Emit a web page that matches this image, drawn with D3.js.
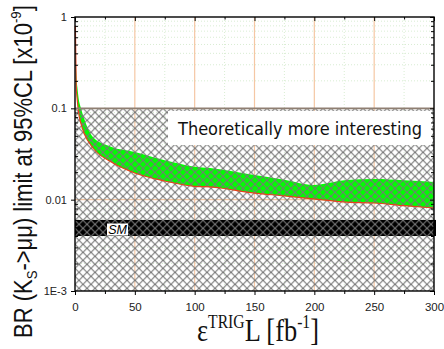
<!DOCTYPE html>
<html><head><meta charset="utf-8">
<script src="https://cdn.jsdelivr.net/npm/d3@7"></script>
<style>html,body{margin:0;padding:0;background:#fff}svg{display:block}</style>
</head><body>
<svg id="c" width="444" height="349"></svg>
<script>
// ---- data ----
const lumi = [0.3, 1, 2, 3, 5, 8, 15, 30, 50, 75, 100, 113, 150, 175, 199, 227, 250, 275, 300];
const upperLimit = [0.8, 0.25, 0.17, 0.13, 0.1, 0.075, 0.0485, 0.038, 0.0333, 0.027, 0.023, 0.0222, 0.0186, 0.0165, 0.0145, 0.0164, 0.0168, 0.0163, 0.0156];
const lowerLimit = [0.8, 0.18, 0.12, 0.09, 0.068, 0.052, 0.0368, 0.026, 0.0196, 0.016, 0.014, 0.0138, 0.0118, 0.011, 0.0102, 0.0094, 0.0092, 0.0086, 0.0081];
const smBand = [0.0040, 0.0060];
const theoryBound = 0.1;
const xTicks = [0, 50, 100, 150, 200, 250, 300];
const xMinor = [25, 75, 125, 175, 225, 275];
const yTicks = [1, 0.1, 0.01, 0.001];
const yTickLabels = ["1", "0.1", "0.01", "1E-3"];
const boxText = "Theoretically more interesting";
const smText = "SM";

// ---- layout ----
const svg = d3.select("#c");
const L = 75, R = 434, T = 17, B = 291;
const x = d3.scaleLinear().domain([0, 300]).range([L, R]);
const y = d3.scaleLog().domain([1e-3, 1]).range([B, T]);

const yMinor = [];
[1e-3, 1e-2, 1e-1].forEach(d => { for (let k = 2; k <= 9; k++) yMinor.push(d * k); });

svg.append("rect").attr("width", 444).attr("height", 349).attr("fill", "#fff");

const defs = svg.append("defs");
const pat = defs.append("pattern").attr("id", "hatch").attr("patternUnits", "userSpaceOnUse")
  .attr("width", 8).attr("height", 8).attr("x", L).attr("y", y(theoryBound));
pat.append("path").attr("d", "M0,0L8,8M0,8L8,0").attr("stroke", "#777").attr("stroke-width", 1.1).attr("fill", "none");

const g = svg.append("g");
// minor grid (dotted light green)
g.selectAll(".vmin").data(xMinor).join("line")
  .attr("x1", d => x(d)).attr("x2", d => x(d)).attr("y1", T).attr("y2", B)
  .attr("stroke", "#cfe8c8").attr("stroke-width", 0.8).attr("stroke-dasharray", "1,2");
g.selectAll(".hmin").data(yMinor).join("line")
  .attr("x1", L).attr("x2", R).attr("y1", d => y(d)).attr("y2", d => y(d))
  .attr("stroke", "#cfe8c8").attr("stroke-width", 0.8).attr("stroke-dasharray", "1,2");
// major grid (orange)
g.selectAll(".vmaj").data(xTicks.slice(1, -1)).join("line")
  .attr("x1", d => x(d)).attr("x2", d => x(d)).attr("y1", T).attr("y2", B)
  .attr("stroke", "#f5c7a4").attr("stroke-width", 1.2);
g.selectAll(".hmaj").data([0.01]).join("line")
  .attr("x1", L).attr("x2", R).attr("y1", d => y(d)).attr("y2", d => y(d))
  .attr("stroke", "#f5c7a4").attr("stroke-width", 1.2);

// green band
const pts = lumi.map((v, i) => ({ v, u: upperLimit[i], l: lowerLimit[i] }));
const area = d3.area().x(d => x(d.v)).y0(d => y(d.l)).y1(d => y(d.u)).curve(d3.curveMonotoneX);
g.append("path").datum(pts).attr("d", area).attr("fill", "#00ff00");

// SM band
g.append("rect").attr("x", L).attr("width", R - L + 2)
  .attr("y", y(smBand[1])).attr("height", y(smBand[0]) - y(smBand[1])).attr("fill", "#000");

// hatch region
g.append("rect").attr("x", L).attr("y", y(theoryBound)).attr("width", R - L)
  .attr("height", B - y(theoryBound)).attr("fill", "url(#hatch)");

// red lower line
const line = d3.line().x(d => x(d.v)).y(d => y(d.l)).curve(d3.curveMonotoneX);
g.append("path").datum(pts).attr("d", line).attr("fill", "none").attr("stroke", "#e8401c").attr("stroke-width", 1.2);

// border of theory region
g.append("line").attr("x1", L).attr("x2", R).attr("y1", y(theoryBound)).attr("y2", y(theoryBound))
  .attr("stroke", "#8f7f72").attr("stroke-width", 1.8);

// text box
g.append("rect").attr("x", 168).attr("y", 111).attr("width", 264).attr("height", 34).attr("fill", "#fff");
g.append("text").attr("x", 178).attr("y", 135).attr("font-family", "DejaVu Sans").attr("font-size", 17)
  .attr("textLength", 244).attr("lengthAdjust", "spacingAndGlyphs").attr("fill", "#111").text(boxText);

// SM label
g.append("rect").attr("x", 107).attr("y", 223.5).attr("width", 21).attr("height", 12).attr("fill", "#fff");
g.append("text").attr("x", 117.5).attr("y", 234).attr("text-anchor", "middle").attr("font-family", "Liberation Sans")
  .attr("font-style", "italic").attr("font-size", 12.5).attr("fill", "#000").text(smText);

// frame
svg.append("rect").attr("x", L).attr("y", T).attr("width", R - L).attr("height", B - T)
  .attr("fill", "none").attr("stroke", "#000").attr("stroke-width", 1.4);

// axes
const xAxisB = d3.axisBottom(x).tickValues(xTicks).tickSize(4).tickFormat(d3.format("d"));
const gxb = svg.append("g").attr("transform", `translate(0,${B})`).call(xAxisB);
gxb.select(".domain").remove();
gxb.selectAll("text").attr("font-family", "Liberation Sans").attr("font-size", 11.5).attr("fill", "#222").attr("dy", "1.1em");
svg.append("g").attr("transform", `translate(0,${B})`).call(d3.axisBottom(x).tickValues(xMinor).tickSize(3).tickFormat(""))
  .select(".domain").remove();
// top ticks (inward)
const gxt = svg.append("g").attr("transform", `translate(0,${T})`);
gxt.call(d3.axisBottom(x).tickValues(xTicks).tickSize(4).tickFormat("")).select(".domain").remove();
gxt.append("g").call(d3.axisBottom(x).tickValues(xMinor).tickSize(2.5).tickFormat("")).select(".domain").remove();

const yAxisL = d3.axisLeft(y).tickValues(yTicks).tickSize(4).tickFormat((d, i) => yTickLabels[i]);
const gyl = svg.append("g").attr("transform", `translate(${L},0)`).call(yAxisL);
gyl.select(".domain").remove();
gyl.selectAll("text").attr("font-family", "Liberation Sans").attr("font-size", 11).attr("fill", "#222").attr("dx", "-0.1em");
svg.append("g").attr("transform", `translate(${L},0)`).call(d3.axisRight(y).tickValues(yMinor).tickSize(3).tickFormat(""))
  .select(".domain").remove();
const gyr = svg.append("g").attr("transform", `translate(${R},0)`);
gyr.call(d3.axisLeft(y).tickValues(yTicks).tickSize(4).tickFormat("")).select(".domain").remove();
gyr.append("g").call(d3.axisLeft(y).tickValues(yMinor).tickSize(3).tickFormat("")).select(".domain").remove();
svg.selectAll(".tick line").attr("stroke", "#000").attr("stroke-width", 1);

// y label
const yl = svg.append("g");
const ylt = yl.append("text").attr("font-family", "Liberation Sans").attr("font-size", 25).attr("fill", "#111");
ylt.append("tspan").text("BR (K");
ylt.append("tspan").attr("font-size", 15).attr("dy", 5).text("S");
ylt.append("tspan").attr("dy", -5).text("->μμ) limit at 95%CL [x10");
ylt.append("tspan").attr("font-size", 15).attr("dy", -11).text("-9");
ylt.append("tspan").attr("dy", 11).text("]");
{
  const bb = ylt.node().getBBox();
  const sx = 333 / bb.width;
  ylt.attr("transform", `scale(${sx},1)`).attr("x", -bb.x);
  yl.attr("transform", `translate(32,338) rotate(-90)`);
}

// x label
const xl = svg.append("g");
const xlt = xl.append("text").attr("font-family", "Liberation Serif").attr("font-size", 32).attr("fill", "#111");
xlt.append("tspan").text("ε");
xlt.append("tspan").attr("font-size", 19).attr("dy", -13).text("TRIG");
xlt.append("tspan").attr("dy", 13).text("L [fb");
xlt.append("tspan").attr("font-size", 19).attr("dy", -13).text("-1");
xlt.append("tspan").attr("dy", 13).text("]");
{
  const bb = xlt.node().getBBox();
  const sx = 122 / bb.width;
  xlt.attr("transform", `scale(${sx},1)`).attr("x", -bb.x);
  xl.attr("transform", `translate(197,341)`);
}
</script>
</body></html>
